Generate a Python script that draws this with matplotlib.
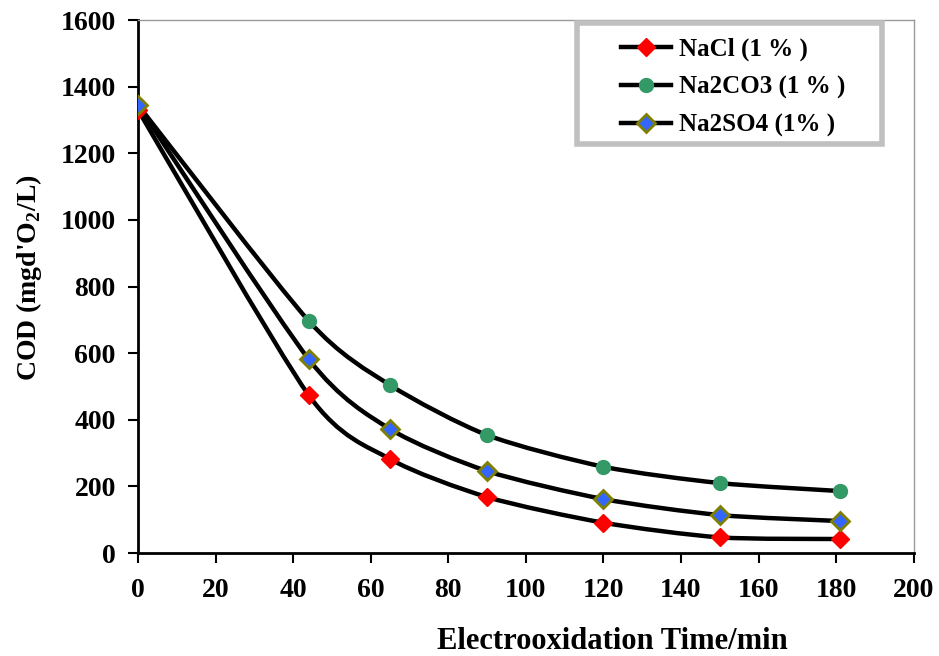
import matplotlib
matplotlib.use("Agg")
import matplotlib.pyplot as plt
import numpy as np
from matplotlib.lines import Line2D
from matplotlib.patches import PathPatch, Rectangle
from matplotlib.path import Path

plt.rcParams["font.family"] = ["Liberation Serif", "DejaVu Serif"]
plt.rcParams["font.weight"] = "bold"
plt.rcParams["mathtext.fontset"] = "custom"
plt.rcParams["mathtext.rm"] = "Liberation Serif:bold"
plt.rcParams["mathtext.bf"] = "Liberation Serif:bold"

time_min = [0, 44, 65, 90, 120, 150, 181]
cod_nacl = [1330, 474, 282, 168, 91, 47, 42]
cod_na2co3 = [1345, 697, 504, 354, 259, 210, 186]
cod_na2so4 = [1345, 582, 372, 246, 162, 114, 96]

labels = ["NaCl (1 % )", "Na2CO3 (1 % )", "Na2SO4 (1% )"]


def smooth_path(xs, ys, k=8.0):
    # bezier through the points, like a spreadsheet "smoothed line"
    pts = np.column_stack([xs, ys]).astype(float)
    verts = [pts[0]]
    codes = [Path.MOVETO]
    n = len(pts)
    for i in range(n - 1):
        p0 = pts[i - 1] if i > 0 else pts[i]
        p1 = pts[i]
        p2 = pts[i + 1]
        p3 = pts[i + 2] if i + 2 < n else pts[i + 1]
        c1 = p1 + (p2 - p0) / k
        c2 = p2 - (p3 - p1) / k
        verts += [c1, c2, p2]
        codes += [Path.CURVE4] * 3
    return Path(verts, codes)


fig = plt.figure(figsize=(9.39, 6.56), dpi=100)
ax = fig.add_axes([0.147, 0.157, 0.826, 0.8125])

styles = [
    dict(marker="D", markersize=9, markerfacecolor="#ff0000", markeredgecolor="#ff0000", markeredgewidth=1),
    dict(marker="o", markersize=10, markerfacecolor="#339966", markeredgecolor="#339966", markeredgewidth=1),
    dict(marker="D", markersize=9, markerfacecolor="#3366ff", markeredgecolor="#808000", markeredgewidth=2),
]
series = [cod_nacl, cod_na2co3, cod_na2so4]

handles = []
for ys, st, lab in zip(series, styles, labels):
    ax.add_patch(PathPatch(smooth_path(time_min, ys), facecolor="none",
                           edgecolor="black", linewidth=3.2, zorder=2,
                           capstyle="round", joinstyle="round"))
    ax.plot(time_min, ys, linestyle="none", zorder=3, **st)
    handles.append(Line2D([], [], color="black", linewidth=3.2, label=lab, **st))

ax.set_xlim(0, 200)
ax.set_ylim(0, 1600)
ax.set_xticks(np.arange(0, 201, 20))
ax.set_yticks(np.arange(0, 1601, 200))

ax.spines["left"].set_linewidth(2)
ax.spines["bottom"].set_linewidth(2)
ax.spines["top"].set_color("#999999")
ax.spines["right"].set_color("#999999")
ax.spines["top"].set_linewidth(1)
ax.spines["right"].set_linewidth(1)
ax.tick_params(axis="both", direction="out", length=7, width=1.5, labelsize=20)
ax.tick_params(axis="y", pad=9)
ax.tick_params(axis="x", pad=11)
for t in ax.get_xticklabels() + ax.get_yticklabels():
    t.set_fontweight("bold")

ax.set_xlabel("Electrooxidation Time/min", fontsize=22, fontweight="bold",
              labelpad=17, x=0.612)
ax.set_ylabel("COD (mgd'O$_{2}$/L)", fontsize=20, fontweight="bold",
              labelpad=12, y=0.517)

# legend frame drawn by hand so the box matches the original size
frame = Rectangle((0.566, 0.767), 0.393, 0.228, transform=ax.transAxes,
                  facecolor="white", edgecolor="#c0c0c0", linewidth=4, zorder=4)
ax.add_patch(frame)
leg = ax.legend(handles=handles, loc="center left", bbox_to_anchor=(0.623, 0.874),
                borderaxespad=0, handlelength=2.0, handletextpad=0.3,
                labelspacing=0.58, borderpad=0, frameon=False,
                prop={"weight": "bold", "size": 18})
leg.set_zorder(5)

fig.savefig("out.png", dpi=100)
